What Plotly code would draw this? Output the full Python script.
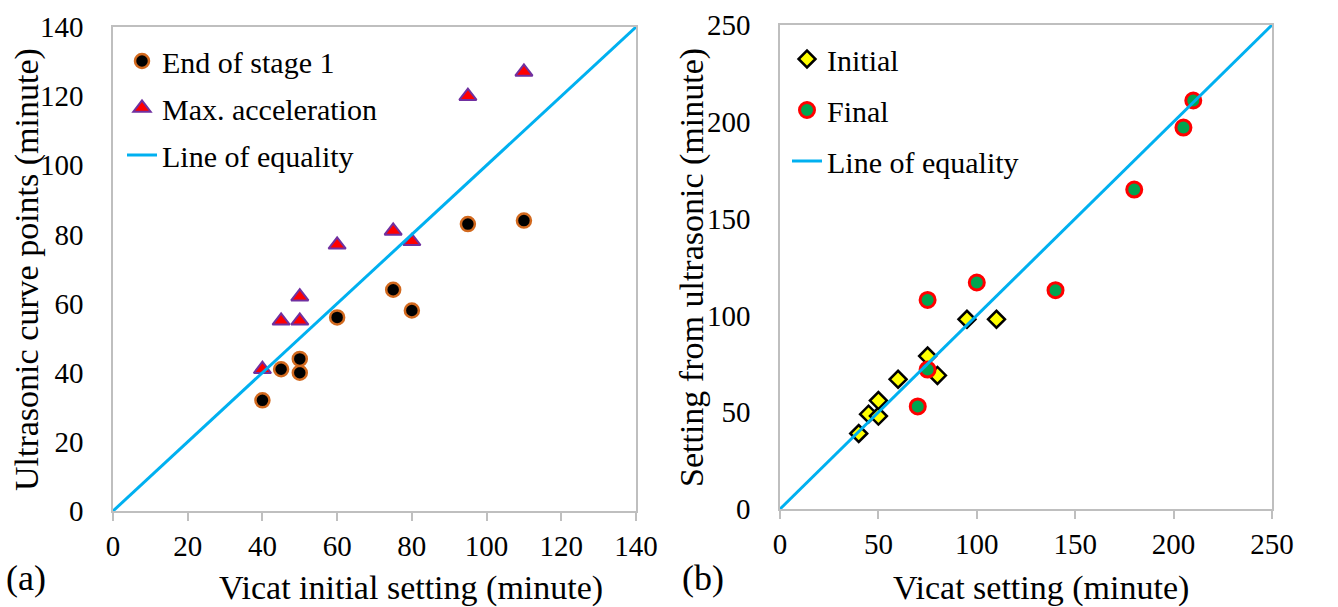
import plotly.graph_objects as go

# Panel (a)
vicat_a = [40, 45, 50, 50, 60, 75, 80, 95, 110]
end_stage1 = [32, 41, 40, 44, 56, 64, 58, 83, 84]
vicat_a2 = [40, 45, 50, 50, 60, 75, 80, 95, 110]
max_accel = [41, 55, 55, 62, 77, 81, 78, 120, 127]
eq_a = [0, 140]

# Panel (b)
vicat_init = [40, 45, 50, 50, 60, 75, 80, 95, 110]
us_init = [39, 49, 48, 56, 67, 79, 69, 98, 98]
vicat_final = [70, 75, 75, 100, 140, 180, 205, 210]
us_final = [53, 72, 108, 117, 113, 165, 197, 211]
eq_b = [0, 250]

FONT = "'Liberation Serif', 'Times New Roman', Times, serif"
fig = go.Figure()

fig.add_trace(go.Scatter(x=vicat_a, y=end_stage1, mode="markers", name="End of stage 1",
                         legendgroup="a1",
                         marker=dict(symbol="circle", size=14, color="black",
                                     line=dict(color="#d2691e", width=2.5)),
                         xaxis="x", yaxis="y", legend="legend"))
fig.add_trace(go.Scatter(x=vicat_a2, y=max_accel, mode="markers", name="Max. acceleration",
                         legendgroup="a2",
                         marker=dict(symbol="triangle-up", size=15, color="#ff0000",
                                     line=dict(color="#7030a0", width=2)),
                         xaxis="x", yaxis="y", legend="legend"))
fig.add_trace(go.Scatter(x=eq_a, y=eq_a, mode="lines", name="Line of equality",
                         legendgroup="a3",
                         line=dict(color="#00b0f0", width=3),
                         xaxis="x", yaxis="y", legend="legend"))

fig.add_trace(go.Scatter(x=vicat_init, y=us_init, mode="markers", name="Initial",
                         legendgroup="b1",
                         marker=dict(symbol="diamond", size=13, color="#ffff00",
                                     line=dict(color="black", width=2.5)),
                         xaxis="x2", yaxis="y2", legend="legend2"))
fig.add_trace(go.Scatter(x=vicat_final, y=us_final, mode="markers", name="Final",
                         legendgroup="b2",
                         marker=dict(symbol="circle", size=15, color="#00a550",
                                     line=dict(color="#ff0000", width=3)),
                         xaxis="x2", yaxis="y2", legend="legend2"))
fig.add_trace(go.Scatter(x=eq_b, y=eq_b, mode="lines", name="Line of equality",
                         legendgroup="b3",
                         line=dict(color="#00b0f0", width=3),
                         xaxis="x2", yaxis="y2", legend="legend2"))

W, H = 1338, 607
TICKSZ = 29
TITLESZ = 34
axis_common = dict(showgrid=False, zeroline=False, showline=True, linecolor="#bfbfbf",
                   linewidth=1.5, mirror=True, automargin=False,
                   tickfont=dict(family=FONT, size=TICKSZ, color="black"))
xcommon = dict(ticks="outside", ticklen=8, tickcolor="#bfbfbf", tickwidth=1.5)
ycommon = dict(ticks="outside", ticklen=22, tickcolor="rgba(0,0,0,0)")

fig.update_layout(
    width=W, height=H, margin=dict(l=0, r=0, t=0, b=0, autoexpand=False),
    paper_bgcolor="white", plot_bgcolor="white",
    font=dict(family=FONT, color="black"),
    xaxis=dict(domain=[113 / W, 636 / W], range=[0, 140], dtick=20, anchor="y",
               **xcommon, **axis_common),
    yaxis=dict(domain=[(H - 511) / H, (H - 27) / H], range=[0, 140], dtick=20, anchor="x",
               **ycommon, **axis_common),
    xaxis2=dict(domain=[780 / W, 1272 / W], range=[0, 250], dtick=50, anchor="y2",
                **xcommon, **axis_common),
    yaxis2=dict(domain=[(H - 509) / H, (H - 25) / H], range=[0, 250], dtick=50, anchor="x2",
                **ycommon, **axis_common),
    legend=dict(x=122 / W, y=(H - 35) / H, xanchor="left", yanchor="top",
                font=dict(family=FONT, size=30, color="black"), bgcolor="rgba(0,0,0,0)",
                itemwidth=30, tracegroupgap=5),
    legend2=dict(x=787 / W, y=(H - 33) / H, xanchor="left", yanchor="top",
                 font=dict(family=FONT, size=30, color="black"), bgcolor="rgba(0,0,0,0)",
                 itemwidth=30, tracegroupgap=9),
    showlegend=True,
)

def ann(x, y, text, size, angle=0, xanchor="center"):
    fig.add_annotation(x=x / W, y=(H - y) / H, xref="paper", yref="paper", text=text,
                       showarrow=False, xanchor=xanchor, yanchor="middle", textangle=angle,
                       font=dict(family=FONT, size=size, color="black"))

ann(411, 588, "Vicat initial setting (minute)", TITLESZ)
ann(1041, 588, "Vicat setting (minute)", TITLESZ)
ann(27, 270, "Ultrasonic curve points (minute)", TITLESZ, -90)
ann(692, 268, "Setting from ultrasonic (minute)", TITLESZ, -90)
ann(4, 578, "(a)", 36, xanchor="left")
ann(680, 578, "(b)", 36, xanchor="left")

fig.write_html("out.html")
